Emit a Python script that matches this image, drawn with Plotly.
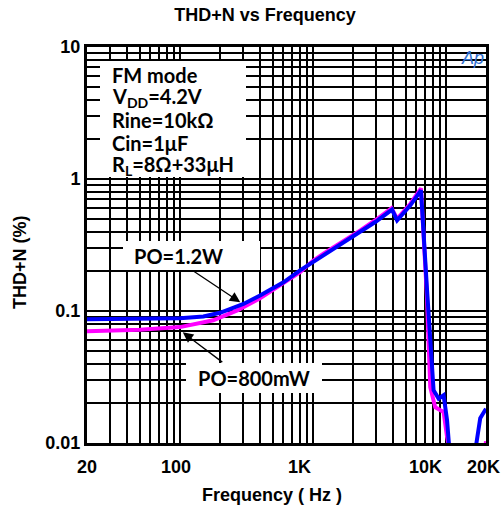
import math
import plotly.graph_objects as go

# ---- data ----
freq_12w = [20, 30, 50, 100, 150, 200, 284, 300, 400, 500, 600, 800, 1000, 1200, 1700, 2270, 2940,
            3930, 4290, 5400, 6490, 7190, 7620, 8070, 8800, 9600, 10190, 10600, 11000, 16500, 16900, 18100, 20000]
thd_12w = [0.0865, 0.0865, 0.087, 0.088, 0.091, 0.097, 0.111, 0.113, 0.131, 0.148, 0.165, 0.203, 0.235, 0.264, 0.326,
           0.396, 0.472, 0.586, 0.486, 0.632, 0.821, 0.15, 0.053, 0.0251, 0.0217, 0.023, 0.0149, 0.009, None, None,
           0.0098, 0.0154, 0.0182]

freq_800mw = [20, 50, 100, 178, 270, 400, 800, 1000, 1200, 1700, 2270, 2940, 3900, 4290, 5400, 6490,
              7190, 7620, 8300, 9080, 9600, 10190, 10600, 11000, 19500, 19700, 20000]
thd_800mw = [0.0702, 0.072, 0.0755, 0.085, 0.101, 0.125, 0.197, 0.24, 0.272, 0.336, 0.408, 0.487, 0.60, 0.50,
             0.65, 0.85, 0.13, 0.0265, 0.0187, 0.0177, 0.0172, 0.0111, 0.0092, None, None, 0.009, 0.0103]

x_tick_vals = [20, 100, 1000, 10000, 20000]
x_tick_text = ["20", "100", "1K", "10K", "20K"]
x_tick_shift = [0, -4, -13, -20, -3]
y_tick_vals = [0.01, 0.1, 1, 10]
y_tick_text = ["0.01", "0.1", "1", "10"]

cond_lines = ["FM mode", "V<sub>DD</sub>=4.2V", "Rine=10kΩ", "Cin=1μF", "R<sub>L</sub>=8Ω+33μH"]

# ---- layout geometry ----
W, H = 501, 508
ML, MR, MT, MB = 87, 15, 47, 65
PW, PH = W - ML - MR, H - MT - MB
XMIN, XMAX = math.log10(20), math.log10(20000)


def px(x):
    return (x - ML) / PW


def py(y):
    return (H - MB - y) / PH


# grid positions (1..9 per decade)
xgrid = [m * 10 ** e for e in range(1, 5) for m in range(1, 10) if 20 <= m * 10 ** e <= 20000]
ygrid = [m * 10.0 ** e for e in range(-2, 1) for m in range(1, 10)] + [10]

fig = go.Figure()
fig.add_trace(go.Scatter(x=freq_800mw, y=thd_800mw, mode="lines", line=dict(color="#ff00ff", width=4),
                         connectgaps=False, showlegend=False))
fig.add_trace(go.Scatter(x=freq_12w, y=thd_12w, mode="lines", line=dict(color="#0000ff", width=4),
                         connectgaps=False, showlegend=False))

fnt = "Liberation Sans, Arial, sans-serif"
box_font = "Lato, Open Sans, sans-serif"
FS = 18

fig.update_layout(
    width=W, height=H, margin=dict(l=ML, r=MR, t=MT, b=MB),
    paper_bgcolor="white", plot_bgcolor="white",
    title=dict(text="<b>THD+N vs Frequency</b>", x=265 / W, xref="container", xanchor="center",
               y=1 - 15 / H, yref="container", yanchor="middle", font=dict(family=fnt, size=FS, color="black")),
    xaxis=dict(type="log", range=[XMIN, XMAX], tickvals=xgrid, showticklabels=False,
               showgrid=True, gridcolor="black", gridwidth=2, ticks="", zeroline=False,
               showline=True, linecolor="black", linewidth=3, mirror=True),
    yaxis=dict(type="log", range=[-2, 1], tickvals=ygrid,
               ticktext=[("<b>" + y_tick_text[y_tick_vals.index(v)] + "</b>" if v in y_tick_vals else "")
                         for v in ygrid],
               tickfont=dict(family=fnt, size=FS, color="black"),
               showgrid=True, gridcolor="black", gridwidth=2, ticks="", zeroline=False,
               showline=True, linecolor="black", linewidth=3, mirror=True),
)

shapes = []
# condition box
shapes.append(dict(type="rect", xref="paper", yref="paper", x0=px(100), x1=px(246), y0=py(177), y1=py(61),
                   fillcolor="white", line=dict(width=0), layer="above"))
# PO boxes
shapes.append(dict(type="rect", xref="paper", yref="paper", x0=px(123), x1=px(260), y0=py(270), y1=py(241),
                   fillcolor="white", line=dict(width=0), layer="above"))
shapes.append(dict(type="rect", xref="paper", yref="paper", x0=px(186), x1=px(322), y0=py(393), y1=py(363),
                   fillcolor="white", line=dict(width=0), layer="above"))
fig.update_layout(shapes=shapes)

ann = []
for i, t in enumerate(cond_lines):
    ann.append(dict(text="<b>" + t + "</b>", xref="paper", yref="paper", x=px(110), y=py(75 + 22.5 * i),
                    xanchor="left", yanchor="middle", showarrow=False,
                    font=dict(family=box_font, size=20, color="black")))

ann.append(dict(text="<b>PO=1.2W</b>", xref="paper", yref="paper", x=px(178), y=py(256),
                xanchor="center", yanchor="middle", showarrow=False,
                font=dict(family=box_font, size=20, color="black")))
ann.append(dict(text="<b>PO=800mW</b>", xref="paper", yref="paper", x=px(254), y=py(378),
                xanchor="center", yanchor="middle", showarrow=False,
                font=dict(family=box_font, size=20, color="black")))
# arrows
ann.append(dict(text="", x=math.log10(284), y=math.log10(0.1164), xref="x", yref="y", showarrow=True,
                ax=-48, ay=-32, arrowhead=2, arrowsize=1.6, arrowwidth=1.3, arrowcolor="black"))
ann.append(dict(text="", x=math.log10(105), y=math.log10(0.069), xref="x", yref="y", showarrow=True,
                ax=41, ay=31, arrowhead=2, arrowsize=1.6, arrowwidth=1.3, arrowcolor="black"))

# x tick labels
for v, t, s in zip(x_tick_vals, x_tick_text, x_tick_shift):
    ann.append(dict(text="<b>" + t + "</b>", x=(math.log10(v) - XMIN) / (XMAX - XMIN), xref="paper",
                    y=py(467), yref="paper", xshift=s, xanchor="center", yanchor="middle", showarrow=False,
                    font=dict(family=fnt, size=FS, color="black")))

# axis titles
ann.append(dict(text="<b>Frequency ( Hz )</b>", xref="paper", yref="paper", x=px(272), y=py(495),
                xanchor="center", yanchor="middle", showarrow=False,
                font=dict(family=fnt, size=FS, color="black")))
ann.append(dict(text="<b>THD+N (%)</b>", xref="paper", yref="paper", x=px(20), y=py(262),
                xanchor="center", yanchor="middle", showarrow=False, textangle=-90,
                font=dict(family=fnt, size=FS, color="black")))
# AP logo
ann.append(dict(text="<i>Ap</i>", xref="paper", yref="paper", x=px(472), y=py(58),
                xanchor="center", yanchor="middle", showarrow=False,
                font=dict(family=fnt, size=18, color="#2f6fd0")))

fig.update_layout(annotations=ann)
fig.write_html("out.html")
